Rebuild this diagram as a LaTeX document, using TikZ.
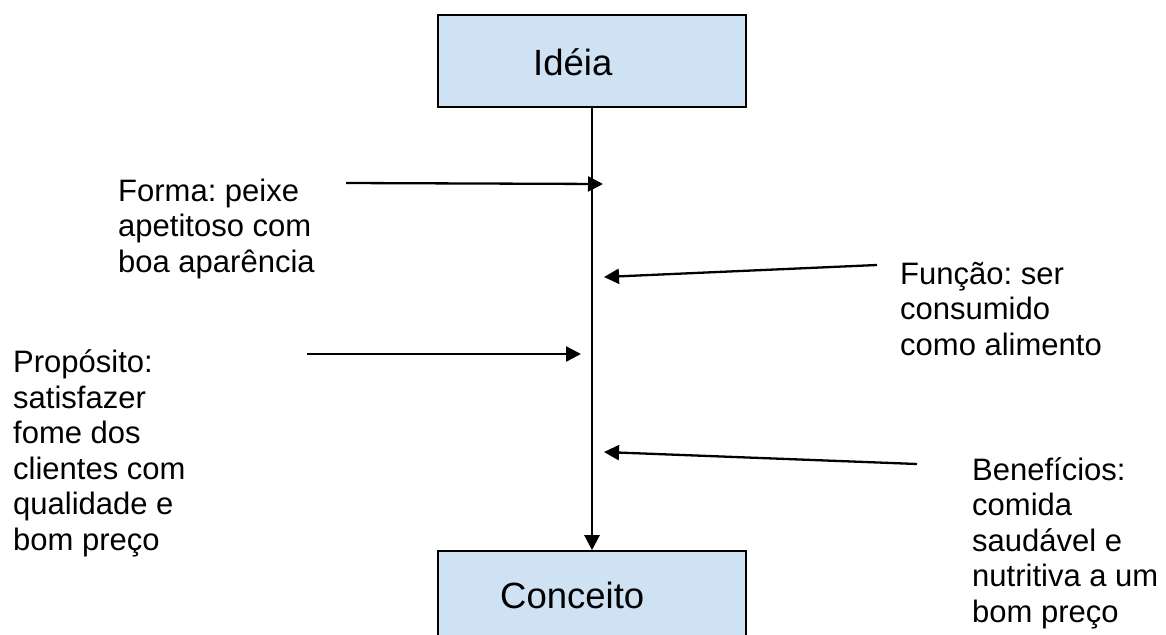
\documentclass[tikz,border=0pt]{standalone}
\usepackage{fontspec}
\setmainfont{Liberation Sans}
\usetikzlibrary{arrows.meta}
\definecolor{boxblue}{HTML}{CFE2F3}
\frenchspacing
\tikzset{
  stage/.style={draw=black, line width=1.6pt, fill=boxblue, minimum width=308pt, minimum height=92pt, inner sep=0pt},
  stagetext/.style={anchor=base west, inner sep=0pt, font=\fontsize{36.5}{42}\selectfont},
  % anchored at the baseline of the last line
  note/.style={anchor=base west, inner sep=0pt, align=left, font=\fontsize{31}{35.5}\selectfont},
  flow/.style={line width=2.3pt, -{Triangle[length=15pt,width=15pt]}}
}
\begin{document}
\begin{tikzpicture}[x=1pt, y=-1pt]
  \useasboundingbox (0,0) rectangle (1166,634);
  \clip (0,0) rectangle (1166,634);

  % the two stages
  \node[stage] (ideia) at (592,61) {};
  \node[stagetext] (ideiaText) at (533,75) {Idéia};
  \node[stage] (conceito) at (592,597) {};
  \node[stagetext] (conceitoText) at (500,608) {Conceito};

  % main flow from idea to concept
  \draw[flow] (ideia.south) -- (conceito.north);

  % attribute notes
  \node[note] (forma) at (118,272) {Forma: peixe\\apetitoso com\\boa aparência};
  \node[note] (proposito) at (13,550) {Propósito:\\satisfazer\\fome dos\\clientes com\\qualidade e\\bom preço};
  \node[note] (funcao) at (900,355) {Função: ser\\consumido\\como alimento};
  \node[note] (beneficios) at (972,622) {Benefícios:\\comida\\saudável e\\nutritiva a um\\bom preço};

  % arrow end points along the flow line
  \coordinate (formaStart) at (346,183);
  \coordinate (formaEnd) at (603,184);
  \coordinate (funcaoStart) at (877,265);
  \coordinate (funcaoEnd) at (604,277);
  \coordinate (propStart) at (307,354);
  \coordinate (propEnd) at (581,354);
  \coordinate (benStart) at (917,464);
  \coordinate (benEnd) at (604,452);

  \draw[flow] (formaStart) -- (formaEnd);
  \draw[flow] (funcaoStart) -- (funcaoEnd);
  \draw[flow] (propStart) -- (propEnd);
  \draw[flow] (benStart) -- (benEnd);
\end{tikzpicture}
\end{document}
